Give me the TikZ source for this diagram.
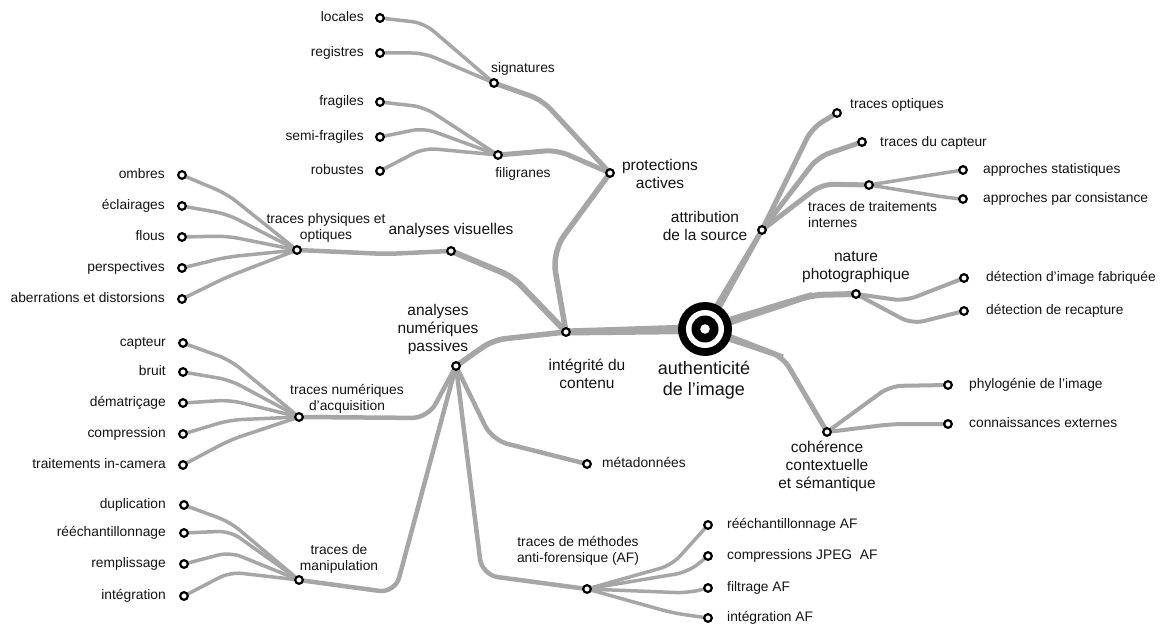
\documentclass[tikz,border=0pt]{standalone}
\usepackage{fontspec}
\setmainfont{Liberation Sans}
\usetikzlibrary{calc,backgrounds}

\definecolor{branch}{RGB}{166,166,166}
\definecolor{ink}{RGB}{20,20,20}

\tikzset{
  dot/.style={circle,draw=black,fill=white,line width=2.2pt,minimum size=7.6pt,inner sep=0pt},
  leaf/.style={font=\fontsize{13.8}{16}\selectfont,text=ink,inner sep=0pt,text height=10pt,text depth=3pt},
  sublabel/.style={font=\fontsize{13.8}{16}\selectfont,text=ink,inner sep=0pt,align=center},
  mainlabel/.style={font=\fontsize{15.5}{18}\selectfont,text=ink,inner sep=0pt,align=center},
  rootlabel/.style={font=\fontsize{18}{21}\selectfont,text=ink,inner sep=0pt,align=center},
  br/.style={draw=branch,line width=#1,line cap=round,line join=round,rounded corners=12pt},
}

% straight branch whose width shrinks from #3 (at #1) to #4 (at #2); half widths given
\newcommand\taperedge[4]{%
  \fill[branch] ($(#1.center)!#3!90:(#2.center)$) -- ($(#2.center)!#4!-90:(#1.center)$)
    -- ($(#2.center)!#4!90:(#1.center)$) -- ($(#1.center)!#3!-90:(#2.center)$) -- cycle;}

\begin{document}
\begin{tikzpicture}[x=1pt,y=-1pt]
\useasboundingbox (0,0) rectangle (1160,628);

% ---------- centre: target ----------
\node[circle,fill=black,minimum size=54pt,inner sep=0pt] (root) at (705,329) {};
\fill[white] (root.center) circle (19pt);
\fill[black] (root.center) circle (13.5pt);
\fill[white] (root.center) circle (4.8pt);
\node[rootlabel] (lroot) at (704,380) {authenticité\\de l’image};

% ---------- first level ----------
\node[dot] (integ) at (566,332) {};
\node[dot] (attr)  at (762,230) {};
\node[dot] (nat)   at (856,294) {};
\node[dot] (coh)   at (827,432) {};
\node[mainlabel] (linteg) at (587,374) {intégrité du\\contenu};
\node[mainlabel] (lattr)  at (705,226) {attribution\\de la source};
\node[mainlabel] (lnat)   at (856,267) {nature\\photographique};
\node[mainlabel] (lcoh)   at (827,466) {cohérence\\contextuelle\\et sémantique};

% ---------- content integrity ----------
\node[dot] (prot) at (610,173) {};
\node[dot] (vis)  at (451,251) {};
\node[dot] (num)  at (456,366) {};
\node[mainlabel] (lprot) at (660,174) {protections\\actives};
\node[mainlabel] (lvis)  at (451,230) {analyses visuelles};
\node[mainlabel] (lnum)  at (438,329) {analyses\\numériques\\passives};

% active protections
\node[dot] (sig) at (494,83) {};
\node[dot] (fil) at (498,155) {};
\node[sublabel] (lsig) at (523,69) {signatures};
\node[sublabel] (lfil) at (523,174) {filigranes};
\node[dot] (loc)  at (380,18) {};
\node[dot] (reg)  at (380,53) {};
\node[dot] (fra)  at (380,102) {};
\node[dot] (semi) at (380,137) {};
\node[dot] (rob)  at (380,171) {};
\node[leaf,anchor=east] (lloc)  at (364,18)  {locales};
\node[leaf,anchor=east] (lreg)  at (364,53)  {registres};
\node[leaf,anchor=east] (lfra)  at (364,102) {fragiles};
\node[leaf,anchor=east] (lsemi) at (364,137) {semi-fragiles};
\node[leaf,anchor=east] (lrob)  at (364,171) {robustes};

% visual analyses
\node[dot] (phys) at (297,250) {};
\node[sublabel] (lphys) at (326,228) {traces physiques et\\optiques};
\node[dot] (omb) at (182,175) {};
\node[dot] (ecl) at (182,206) {};
\node[dot] (flo) at (182,237) {};
\node[dot] (per) at (182,268) {};
\node[dot] (abe) at (182,299) {};
\node[leaf,anchor=east] (lomb) at (165,175) {ombres};
\node[leaf,anchor=east] (lecl) at (165,206) {éclairages};
\node[leaf,anchor=east] (lflo) at (165,237) {flous};
\node[leaf,anchor=east] (lper) at (165,268) {perspectives};
\node[leaf,anchor=east] (labe) at (165,299) {aberrations et distorsions};

% passive digital analyses
\node[dot] (acq) at (299,417) {};
\node[sublabel] (lacq) at (347,399) {traces numériques\\d’acquisition};
\node[dot] (cap)  at (183,343) {};
\node[dot] (bru)  at (183,372) {};
\node[dot] (dem)  at (183,403) {};
\node[dot] (comp) at (183,434) {};
\node[dot] (inc)  at (183,465) {};
\node[leaf,anchor=east] (lcap)  at (166,343) {capteur};
\node[leaf,anchor=east] (lbru)  at (166,372) {bruit};
\node[leaf,anchor=east] (ldem)  at (166,403) {dématriçage};
\node[leaf,anchor=east] (lcomp) at (166,434) {compression};
\node[leaf,anchor=east] (linc)  at (166,465) {traitements in-camera};

\node[dot] (man) at (299,580) {};
\node[sublabel] (lman) at (339,559) {traces de\\manipulation};
\node[dot] (dup)  at (184,505) {};
\node[dot] (ree)  at (184,533) {};
\node[dot] (rem)  at (184,564) {};
\node[dot] (inte) at (184,596) {};
\node[leaf,anchor=east] (ldup)  at (166,505) {duplication};
\node[leaf,anchor=east] (lree)  at (166,533) {rééchantillonnage};
\node[leaf,anchor=east] (lrem)  at (166,564) {remplissage};
\node[leaf,anchor=east] (linte) at (166,596) {intégration};

\node[dot] (meta) at (587,464) {};
\node[leaf,anchor=west] (lmeta) at (602,464) {métadonnées};

\node[dot] (af) at (587,589) {};
\node[sublabel] (laf) at (578,551) {traces de méthodes\\anti-forensique (AF)};
\node[dot] (afa) at (708,525) {};
\node[dot] (afb) at (708,556) {};
\node[dot] (afc) at (708,588) {};
\node[dot] (afd) at (708,618) {};
\node[leaf,anchor=west] (lafa) at (727,525) {rééchantillonnage AF};
\node[leaf,anchor=west] (lafb) at (727,556) {compressions JPEG\ \ AF};
\node[leaf,anchor=west] (lafc) at (727,588) {filtrage AF};
\node[leaf,anchor=west] (lafd) at (727,618) {intégration AF};

% ---------- source attribution ----------
\node[dot] (topt) at (837,113) {};
\node[dot] (tcap) at (862,142) {};
\node[dot] (tint) at (869,185) {};
\node[leaf,anchor=west] (ltopt) at (850,105) {traces optiques};
\node[leaf,anchor=west] (ltcap) at (880,143) {traces du capteur};
\node[sublabel,anchor=west,align=left] (ltint) at (808,215) {traces de traitements\\internes};
\node[dot] (stat) at (963,170) {};
\node[dot] (cons) at (963,199) {};
\node[leaf,anchor=west] (lstat) at (983,170) {approches statistiques};
\node[leaf,anchor=west] (lcons) at (983,199) {approches par consistance};

% ---------- photographic nature ----------
\node[dot] (fab) at (964,278) {};
\node[dot] (rec) at (964,311) {};
\node[leaf,anchor=west] (lfab) at (986,278) {détection d’image fabriquée};
\node[leaf,anchor=west] (lrec) at (986,311) {détection de recapture};

% ---------- contextual coherence ----------
\node[dot] (phy) at (948,385) {};
\node[dot] (con) at (948,424) {};
\node[leaf,anchor=west] (lphy) at (969,385) {phylogénie de l’image};
\node[leaf,anchor=west] (lcon) at (969,424) {connaissances externes};

% ---------- branches ----------
\begin{pgfonlayer}{background}
\fill[white] (0,0) rectangle (1160,628);

% from the centre
\taperedge{root}{integ}{5pt}{3.5pt}
\taperedge{root}{attr}{4.5pt}{2.5pt}
\coordinate (bnat) at (812,295);
\coordinate (bcoh) at (783,357);
\draw[br=6pt] (root.center) -- (bnat) -- (nat.center);
\taperedge{root}{bnat}{4.6pt}{3pt}
\draw[br=5pt] (root.center) -- (bcoh) -- (coh.center);
\taperedge{root}{bcoh}{4.6pt}{2.5pt}

% content integrity
\draw[br=5.5pt,rounded corners=20pt] (integ.center) -- (552,252) -- (prot.center);
\draw[br=6pt] (integ.center) -- (513,277) -- (vis.center);
\draw[br=5.5pt] (integ.center) -- (493,340) -- (num.center);

\draw[br=5pt] (prot.center) -- (542,100) -- (sig.center);
\draw[br=5pt] (prot.center) -- (557,150) -- (fil.center);
\draw[br=3.5pt] (sig.center) -- (424,23) -- (loc.center);
\draw[br=3.5pt] (sig.center) -- (424,53) -- (reg.center);
\draw[br=3.5pt] (fil.center) -- (424,107) -- (fra.center);
\draw[br=3.5pt] (fil.center) -- (424,128) -- (semi.center);
\draw[br=3.5pt] (fil.center) -- (424,148) -- (rob.center);

\draw[br=4.5pt] (vis.center) -- (386,254) -- (phys.center);
\draw[br=3.5pt] (phys.center) -- (227,194) -- (omb.center);
\draw[br=3.5pt] (phys.center) -- (227,214) -- (ecl.center);
\draw[br=3.5pt] (phys.center) -- (227,236) -- (flo.center);
\draw[br=3.5pt] (phys.center) -- (227,257) -- (per.center);
\draw[br=3.5pt] (phys.center) -- (227,277) -- (abe.center);

\draw[br=4.5pt,rounded corners=16pt] (num.center) -- (428,418) -- (acq.center);
\draw[br=3.5pt] (acq.center) -- (230,360) -- (cap.center);
\draw[br=3.5pt] (acq.center) -- (230,380) -- (bru.center);
\draw[br=3.5pt] (acq.center) -- (230,400) -- (dem.center);
\draw[br=3.5pt] (acq.center) -- (230,420) -- (comp.center);
\draw[br=3.5pt] (acq.center) -- (230,440) -- (inc.center);

\draw[br=4.5pt,rounded corners=16pt] (num.center) -- (395,593) -- (man.center);
\draw[br=3.5pt] (man.center) -- (230,522) -- (dup.center);
\draw[br=3.5pt] (man.center) -- (230,531) -- (ree.center);
\draw[br=3.5pt] (man.center) -- (230,552) -- (rem.center);
\draw[br=3.5pt] (man.center) -- (230,572) -- (inte.center);

\draw[br=4.5pt,rounded corners=16pt] (num.center) -- (492,440) -- (meta.center);
\draw[br=4.5pt,rounded corners=16pt] (num.center) -- (482,575) -- (af.center);
\draw[br=3.5pt] (af.center) -- (672,565) -- (afa.center);
\draw[br=3.5pt] (af.center) -- (688,572) -- (afb.center);
\draw[br=3.5pt] (af.center) -- (688,593) -- (afc.center);
\draw[br=3.5pt] (af.center) -- (673,613) -- (afd.center);

% source attribution
\draw[br=5pt] (attr.center) -- (812,128) -- (topt.center);
\draw[br=5pt] (attr.center) -- (818,157) -- (tcap.center);
\draw[br=5pt] (attr.center) -- (822,184) -- (tint.center);
\draw[br=3.5pt] (tint.center) -- (950,172) -- (stat.center);
\draw[br=3.5pt] (tint.center) -- (950,198) -- (cons.center);

% photographic nature
\draw[br=4pt] (nat.center) -- (905,301) -- (fab.center);
\draw[br=4pt] (nat.center) -- (912,324) -- (rec.center);

% contextual coherence
\draw[br=4pt] (coh.center) -- (890,386) -- (phy.center);
\draw[br=4pt] (coh.center) -- (893,424) -- (con.center);
\end{pgfonlayer}
\end{tikzpicture}
\end{document}
